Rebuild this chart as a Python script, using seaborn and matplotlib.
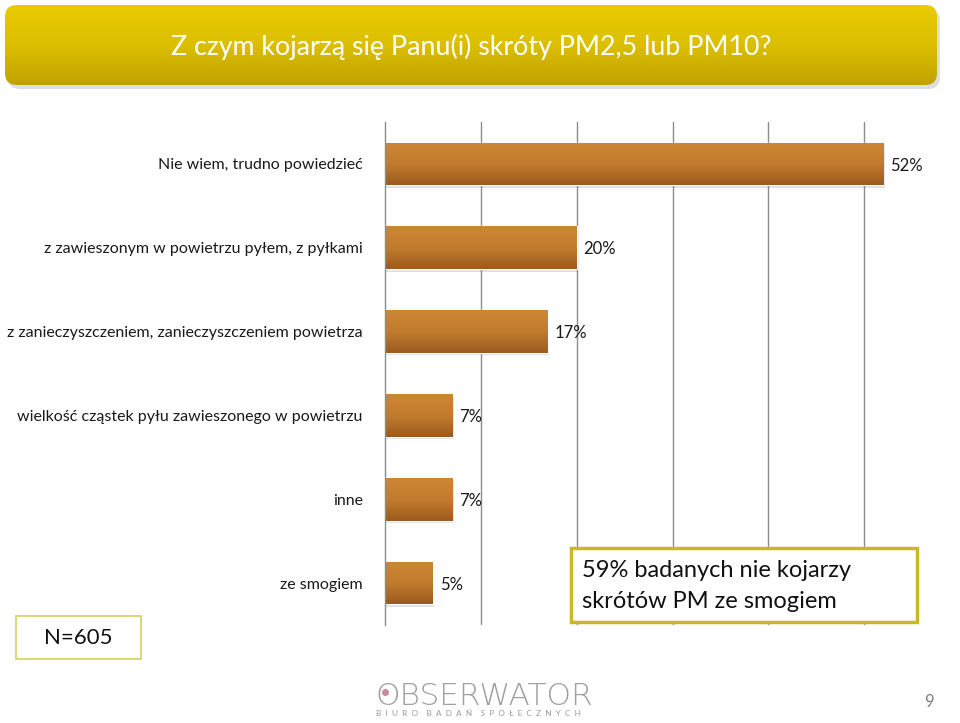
import numpy as np
import pandas as pd
import matplotlib
matplotlib.use("Agg")
import matplotlib.pyplot as plt
import seaborn as sns
from matplotlib.patches import FancyBboxPatch, Rectangle
from matplotlib.colors import LinearSegmentedColormap

categories = [
    "Nie wiem, trudno powiedzieć",
    "z zawieszonym w powietrzu pyłem, z pyłkami",
    "z zanieczyszczeniem, zanieczyszczeniem powietrza",
    "wielkość cząstek pyłu zawieszonego w powietrzu",
    "inne",
    "ze smogiem",
]
values = [52, 20, 17, 7, 7, 5]
value_labels = ["52%", "20%", "17%", "7%", "7%", "5%"]
title = "Z czym kojarzą się Panu(i) skróty PM2,5 lub PM10?"
n_text = "N=605"
note_text = "59% badanych nie kojarzy\nskrótów PM ze smogiem"

sns.set_theme(style="white")
plt.rcParams['font.family'] = ['Lato', 'DejaVu Sans']

W, H = 960, 723
fig = plt.figure(figsize=(W / 100, H / 100), dpi=100)

df = pd.DataFrame({"cat": categories, "val": values})

ax = fig.add_axes([385 / W, 1 - 625 / H, 1 - 385 / W, (625 - 122) / H])
sns.barplot(data=df, y="cat", x="val", orient="h", color="#B8702A",
            width=0.51, ax=ax, saturation=1)
ax.set_xlim(0, 60)
ax.set_ylim(len(categories) - 0.5, -0.5)
ax.set_xlabel("")
ax.set_ylabel("")
ax.set_xticks([10, 20, 30, 40, 50])
ax.tick_params(axis="x", length=0, labelbottom=False)
ax.grid(axis="x", color="#8c8c8c", linewidth=1.0)
ax.set_axisbelow(True)
for s in ["top", "right", "bottom"]:
    ax.spines[s].set_visible(False)
ax.spines["left"].set_color("#8c8c8c")
ax.spines["left"].set_linewidth(1.0)

ax.set_yticks(range(len(categories)))
ax.set_yticklabels(categories, fontsize=11.5, color="#1a1a1a")
ax.tick_params(axis="y", which="major", length=0, pad=16)
ax.set_yticks(np.arange(-0.5, len(categories), 1), minor=True)
ax.tick_params(axis="y", which="minor", length=5, color="#8c8c8c", width=1, direction="out")

# gradient bars
cmap = LinearSegmentedColormap.from_list("bar", ["#CD8634", "#C27C2E", "#9B5B1E"])
grad = np.linspace(0, 1, 100).reshape(-1, 1)
for p in list(ax.patches):
    x0, y0 = p.get_x(), p.get_y()
    w, h = p.get_width(), p.get_height()
    sh = Rectangle((x0 + 0.15, y0 + 0.03), w, h, facecolor="#000000", alpha=0.12,
                   edgecolor="none", zorder=1.5)
    ax.add_patch(sh)
    p.set_zorder(2)
    im = ax.imshow(grad, cmap=cmap, aspect="auto",
                   extent=(x0, x0 + w, y0 + h, y0), zorder=2.5, interpolation="bilinear")
    im.set_clip_path(p)
ax.set_xlim(0, 60)
ax.set_ylim(len(categories) - 0.5, -0.5)

for i, (v, lab) in enumerate(zip(values, value_labels)):
    ax.text(v + 0.7, i + 0.02, lab, va="center", ha="left", fontsize=12, color="#1a1a1a")

# title banner
bax = fig.add_axes([0, 0, 1, 1], zorder=-1)
bax.axis("off")
shadow = FancyBboxPatch((8, 9), 932, 80, boxstyle="round,pad=0,rounding_size=12",
                        facecolor="#000000", alpha=0.13, edgecolor="none", zorder=0.5)
bax.add_patch(shadow)
banner = FancyBboxPatch((5, 5), 932, 80, boxstyle="round,pad=0,rounding_size=12",
                        facecolor="none", edgecolor="none")
bax.add_patch(banner)
bcmap = LinearSegmentedColormap.from_list("ban", ["#E8CB00", "#DCBF00", "#BFA200"])
bim = bax.imshow(grad, cmap=bcmap, aspect="auto", extent=(5, 937, 85, 5),
                 interpolation="bilinear", zorder=2)
bim.set_clip_path(banner)
bax.set_xlim(0, W)
bax.set_ylim(H, 0)

ov = fig.add_axes([0, 0, 1, 1], zorder=5)
ov.set_xlim(0, W)
ov.set_ylim(H, 0)
ov.axis("off")
ov.patch.set_alpha(0)
ov.text(471, 47, title, ha="center", va="center", fontsize=19.3, color="white")

# N box
ov.add_patch(Rectangle((16, 616), 125, 43, facecolor="white", edgecolor="#D9D36A", linewidth=1.3))
ov.text(78.5, 638, n_text, ha="center", va="center", fontsize=16, color="#111111")

# note box
ov.add_patch(Rectangle((571, 548), 346, 74, facecolor="white", edgecolor="#C9B724", linewidth=2.5))
ov.text(582, 586, note_text, ha="left", va="center", fontsize=17, color="#111111",
        linespacing=1.55)

# logo
ov.text(375, 705, "OBSERWATOR", ha="left", va="baseline", fontsize=22.5, color="#a0a0a0",
        family=["Liberation Sans Narrow", "DejaVu Sans"], fontweight="light")
ov.plot([384.5], [692], marker="o", markersize=4, color="#c98a9a")
ov.text(376, 714, "B  I  U  R  O    B  A  D  A  Ń    S  P  O  Ł  E  C  Z  N  Y  C  H",
        ha="left", va="center", fontsize=5.9, color="#9a9a9a")
ov.text(929, 702, "9", ha="center", va="center", fontsize=12, color="#808080")

fig.savefig("out.png", dpi=100)
